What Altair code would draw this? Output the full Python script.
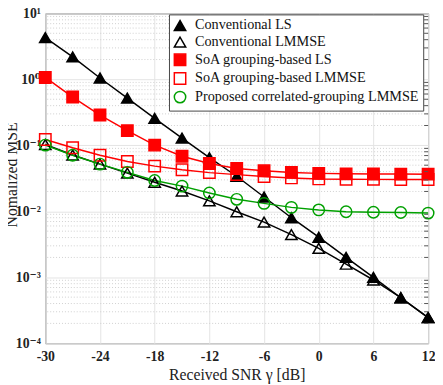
import altair as alt
import pandas as pd

snr = [-30, -27, -24, -21, -18, -15, -12, -9, -6, -3, 0, 3, 6, 9, 12]

conv_ls = [4.3, 2.19, 1.05, 0.52, 0.257, 0.129, 0.065, 0.034, 0.0165, 0.0080,
           0.00405, 0.0020, 0.00100, 0.00049, 0.000245]
conv_lmmse = [0.103, 0.0714, 0.052, 0.038, 0.0276, 0.0203, 0.0144, 0.00986, 0.00686,
              0.00444, 0.00274, 0.00158, 0.00091, 0.00049, 0.000245]
soa_ls = [1.07, 0.54, 0.288, 0.167, 0.1007, 0.0684, 0.053, 0.0446, 0.0412, 0.0389,
          0.0376, 0.0370, 0.0368, 0.0367, 0.0366]
soa_lmmse = [0.1225, 0.0918, 0.0707, 0.0569, 0.0484, 0.0427, 0.0386, 0.036, 0.0336,
             0.0321, 0.031, 0.0306, 0.0305, 0.0304, 0.0304]
proposed = [0.101, 0.0707, 0.052, 0.039, 0.0293, 0.0241, 0.019, 0.0152, 0.0132,
            0.01148, 0.0105, 0.00986, 0.00967, 0.0096, 0.0094]

series_names = ["Conventional LS", "Conventional LMMSE", "SoA grouping-based LS",
                "SoA grouping-based LMMSE", "Proposed correlated-grouping LMMSE"]
series_vals = [conv_ls, conv_lmmse, soa_ls, soa_lmmse, proposed]

stroke_colors = ["#000000", "#000000", "#ff0000", "#ff0000", "#00a000"]
fill_colors = ["#000000", "transparent", "#ff0000", "transparent", "transparent"]
shapes = ["triangle-up", "triangle-up", "square", "square", "circle"]
marker_sizes = [135, 135, 100, 100, 100]

x_ticks = [-30, -24, -18, -12, -6, 0, 6, 12]
y_ticks = [1e-4, 1e-3, 1e-2, 1e-1, 1, 10]
minor_vals = [k * 10.0 ** e for e in range(-4, 1) for k in range(2, 10)]

rows = []
for name, vals in zip(series_names, series_vals):
    for xv, yv in zip(snr, vals):
        rows.append({"snr": xv, "mse": yv, "series": name})
df = pd.DataFrame(rows)

FONT = "Times New Roman, Liberation Serif, DejaVu Serif, serif"
W, H = 390, 336

xscale = alt.Scale(domain=[-30, 12], nice=False, zero=False)
yscale = alt.Scale(type="log", domain=[1e-4, 10], nice=False)

xaxis = alt.Axis(values=x_ticks, title="Received SNR γ [dB]", grid=True,
                 gridColor="#e3e3e3", ticks=False, domain=False, labelFlush=False,
                 labelExpr="'' + datum.value",
                 labelFontWeight="bold", labelPadding=7, titlePadding=3,
                 titleFontSize=16)
yaxis = alt.Axis(values=y_ticks, title="Nomalized MSE", grid=True,
                 gridColor="#e3e3e3", ticks=False, domain=False, labelFlush=False,
                 labelExpr="datum.value > 5 ? '10¹' : datum.value > 0.5 ? '10⁰' : datum.value > 0.05 ? '10⁻¹' : datum.value > 0.005 ? '10⁻²' : datum.value > 0.0005 ? '10⁻³' : '10⁻⁴'",
                 labelFontWeight="bold", labelPadding=5,
                 titleFontSize=16,
                 titleX=-29, titleY=H / 2 - 4, titleAngle=270, titleAlign="center",
                 titleBaseline="alphabetic")

stroke_scale = alt.Scale(domain=series_names, range=stroke_colors)

minor_df = pd.DataFrame({"m": minor_vals})
minor_grid = alt.Chart(minor_df).mark_rule(strokeDash=[1, 2], color="#cfcfcf", strokeWidth=1).encode(
    y=alt.Y("m:Q", scale=yscale, axis=yaxis)
)
minor_ticks = alt.Chart(minor_df).mark_rule(color="#555", strokeWidth=1).encode(
    y=alt.Y("m:Q", scale=yscale, axis=yaxis),
    x=alt.value(W - 4), x2=alt.value(W)
)

legend = alt.Legend(title=None, orient="none", legendX=126, legendY=1,
                    strokeColor="#444", fillColor="white", padding=4,
                    rowPadding=0, symbolStrokeWidth=1.5,
                    labelOffset=8, labelLimit=400)

lines = alt.Chart(df).mark_line(strokeWidth=1.5).encode(
    x=alt.X("snr:Q", scale=xscale, axis=xaxis),
    y=alt.Y("mse:Q", scale=yscale, axis=yaxis),
    detail="series:N",
    stroke=alt.Stroke("series:N", scale=stroke_scale, legend=legend),
)

points = alt.Chart(df).mark_point(strokeWidth=1.5, opacity=1).encode(
    x=alt.X("snr:Q", scale=xscale, axis=xaxis),
    y=alt.Y("mse:Q", scale=yscale, axis=yaxis),
    stroke=alt.Stroke("series:N", scale=stroke_scale, legend=legend),
    fill=alt.Fill("series:N", scale=alt.Scale(domain=series_names, range=fill_colors), legend=legend),
    shape=alt.Shape("series:N", scale=alt.Scale(domain=series_names, range=shapes), legend=legend),
    size=alt.Size("series:N", scale=alt.Scale(domain=series_names, range=marker_sizes), legend=legend),
)

chart = alt.layer(minor_grid, lines, points, minor_ticks).properties(
    width=W, height=H,
    autosize=alt.AutoSizeParams(type="none"),
    padding={"left": 38, "top": 2, "right": 7, "bottom": 39},
).configure_view(
    stroke="#555", strokeWidth=1
).configure_axis(
    labelFont=FONT, labelFontSize=14, labelColor="#222",
    titleFont=FONT, titleFontWeight="normal", titleColor="#222",
).configure_legend(
    labelFont=FONT, labelFontSize=14.5, labelColor="#111",
)

chart.save("out.html", embed_options={"renderer": "svg", "actions": False})
